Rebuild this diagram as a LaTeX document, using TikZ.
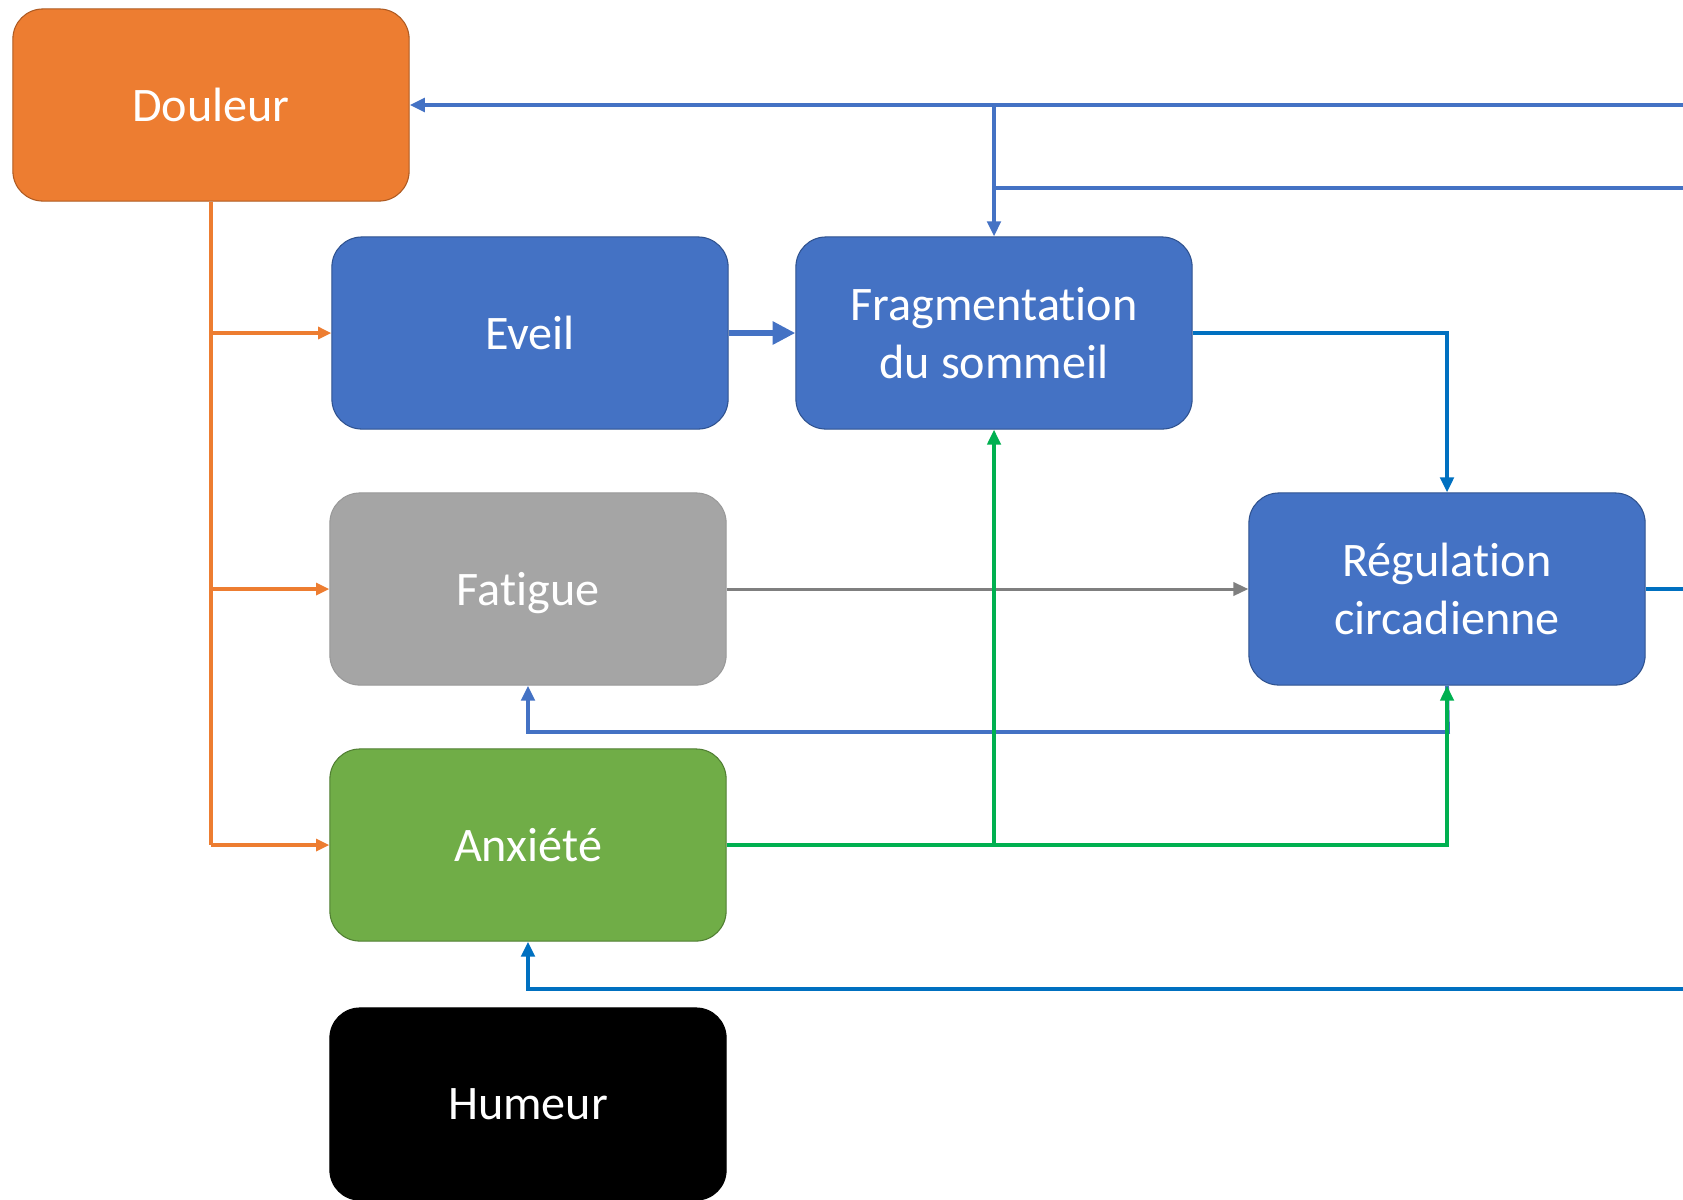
\documentclass[tikz,border=0pt]{standalone}
\usepackage{fontspec}
\setmainfont{Carlito}[Ligatures=NoCommon]
\usetikzlibrary{arrows.meta}

\definecolor{douorange}{HTML}{ED7D31}
\definecolor{douborder}{HTML}{AE5A21}
\definecolor{boxblue}{HTML}{4472C4}
\definecolor{blueborder}{HTML}{2F528F}
\definecolor{boxgrey}{HTML}{A5A5A5}
\definecolor{greyborder}{HTML}{7F7F7F}
\definecolor{boxgreen}{HTML}{70AD47}
\definecolor{greenborder}{HTML}{507E32}
\definecolor{darkblue}{HTML}{0070C0}
\definecolor{lngreen}{HTML}{00B050}

\begin{document}
\begin{tikzpicture}[x=0.01cm, y=-0.01cm,
  box/.style={rectangle, rounded corners=0.3cm, minimum width=3.96cm,
    minimum height=1.92cm, text=white, align=center, line width=0.3pt,
    font=\fontsize{13.7}{16.5}\selectfont},
  tip/.style={-{Triangle[length=4.3pt,width=3.8pt]}},
  orangeln/.style={draw=douorange, line width=1pt, -{Triangle[length=3.8pt,width=3.4pt]}},
  blueln/.style={draw=boxblue, line width=1.1pt, tip},
  dkblueln/.style={draw=darkblue, line width=1.35pt, tip},
  greenln/.style={draw=lngreen, line width=1pt, tip},
  greyln/.style={draw=greyborder, line width=0.85pt, tip},
  wideln/.style={draw=boxblue, line width=1.9pt, -{Triangle[length=6.5pt,width=6.3pt]}}]
  \useasboundingbox (0,0) rectangle (1683,1199);

  % Boxes
  \node[box, fill=douorange, draw=douborder] (dou) at (211,105) {Douleur};
  \node[box, fill=boxblue, draw=blueborder] (eve) at (530,333) {Eveil};
  \node[box, fill=boxblue, draw=blueborder] (fra) at (994,333) {Fragmentation\\du sommeil};
  \node[box, fill=boxgrey, draw=greyborder!80, text depth=0pt] (fat) at (528,589) {Fatigue};
  \node[box, fill=boxblue, draw=blueborder] (reg) at (1447,589) {Régulation\\circadienne};
  \node[box, fill=boxgreen, draw=greenborder] (anx) at (528,845) {Anxiété};
  \node[box, fill=black, draw=black] (hum) at (528,1104) {Humeur};

  % Loose ends on the right edge
  \coordinate (rtop) at (1683,105);
  \coordinate (rmid) at (1683,188);
  \coordinate (rreg) at (1683,589);
  \coordinate (rbot) at (1683,989);
  \coordinate (rfat) at (1448,732);

  % Douleur branches
  \draw[douorange, line width=1pt] (dou.south) -- (dou.south |- anx.west);
  \foreach \n in {eve,fat,anx}
    \draw[orangeln] (dou.south |- \n.west) -- (\n.west);

  % Top feedback lines
  \draw[blueln] (rtop) -- (dou.east);
  \draw[boxblue, line width=1.1pt] (rtop -| fra.north) -- (rmid -| fra.north);
  \draw[blueln] (rmid) -| (fra.north);

  % Sleep chain
  \draw[wideln] (eve) -- (fra);
  \draw[dkblueln] (fra.east) -| (reg.north);
  \draw[darkblue, line width=1.35pt] (reg.east) -- (rreg);
  \draw[greyln] (fat) -- (reg);
  \draw[blueln] (reg.south) -- (rfat) -| (fat.south);

  % Anxiety
  \draw[greenln] (anx.east) -| (fra.south);
  \draw[greenln] (anx.east) -| (reg.south);
  \draw[dkblueln] (rbot) -| (anx.south);
\end{tikzpicture}
\end{document}
